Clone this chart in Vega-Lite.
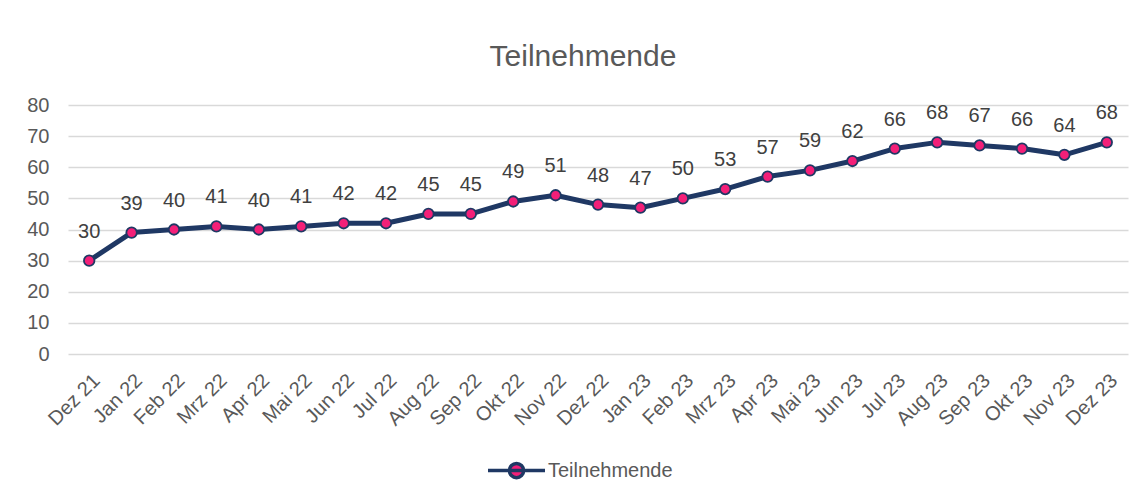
{
  "$schema": "https://vega.github.io/schema/vega-lite/v6.json",
  "autosize": {"type": "none"},
  "width": 1060,
  "height": 249,
  "padding": {"left": 68, "top": 105, "right": 15, "bottom": 140},
  "background": "white",
  "config": {
    "font": "Liberation Sans",
    "view": {"stroke": null},
    "axis": {"labelFont": "Liberation Sans", "labelColor": "#595959", "labelFontSize": 20, "ticks": false, "domain": false, "title": null},
    "legend": {"labelFont": "Liberation Sans"}
  },
  "title": {
    "text": "Teilnehmende",
    "fontSize": 30,
    "fontWeight": "normal",
    "color": "#595959",
    "anchor": "middle",
    "dx": -15,
    "offset": 23,
    "font": "Liberation Sans"
  },
  "data": {
    "values": [
      {"monat": "Dez 21", "wert": 30, "serie": "Teilnehmende"},
      {"monat": "Jan 22", "wert": 39, "serie": "Teilnehmende"},
      {"monat": "Feb 22", "wert": 40, "serie": "Teilnehmende"},
      {"monat": "Mrz 22", "wert": 41, "serie": "Teilnehmende"},
      {"monat": "Apr 22", "wert": 40, "serie": "Teilnehmende"},
      {"monat": "Mai 22", "wert": 41, "serie": "Teilnehmende"},
      {"monat": "Jun 22", "wert": 42, "serie": "Teilnehmende"},
      {"monat": "Jul 22", "wert": 42, "serie": "Teilnehmende"},
      {"monat": "Aug 22", "wert": 45, "serie": "Teilnehmende"},
      {"monat": "Sep 22", "wert": 45, "serie": "Teilnehmende"},
      {"monat": "Okt 22", "wert": 49, "serie": "Teilnehmende"},
      {"monat": "Nov 22", "wert": 51, "serie": "Teilnehmende"},
      {"monat": "Dez 22", "wert": 48, "serie": "Teilnehmende"},
      {"monat": "Jan 23", "wert": 47, "serie": "Teilnehmende"},
      {"monat": "Feb 23", "wert": 50, "serie": "Teilnehmende"},
      {"monat": "Mrz 23", "wert": 53, "serie": "Teilnehmende"},
      {"monat": "Apr 23", "wert": 57, "serie": "Teilnehmende"},
      {"monat": "Mai 23", "wert": 59, "serie": "Teilnehmende"},
      {"monat": "Jun 23", "wert": 62, "serie": "Teilnehmende"},
      {"monat": "Jul 23", "wert": 66, "serie": "Teilnehmende"},
      {"monat": "Aug 23", "wert": 68, "serie": "Teilnehmende"},
      {"monat": "Sep 23", "wert": 67, "serie": "Teilnehmende"},
      {"monat": "Okt 23", "wert": 66, "serie": "Teilnehmende"},
      {"monat": "Nov 23", "wert": 64, "serie": "Teilnehmende"},
      {"monat": "Dez 23", "wert": 68, "serie": "Teilnehmende"}
    ]
  },
  "encoding": {
    "x": {
      "field": "monat",
      "type": "ordinal",
      "sort": null,
      "scale": {"type": "point", "padding": 0.5},
      "axis": {"labelAngle": -45, "labelPadding": 16, "labelDx": -4, "grid": false}
    },
    "y": {
      "field": "wert",
      "type": "quantitative",
      "scale": {"domain": [0, 80], "nice": false},
      "axis": {"values": [0, 10, 20, 30, 40, 50, 60, 70, 80], "gridColor": "#D9D9D9", "gridWidth": 1.5, "labelPadding": 19}
    }
  },
  "layer": [
    {
      "mark": {"type": "line", "strokeWidth": 5, "strokeJoin": "round"},
      "encoding": {
        "color": {
          "field": "serie",
          "type": "nominal",
          "scale": {"range": ["#1F3864"]},
          "legend": {
            "title": null,
            "orient": "none",
            "legendX": 418,
            "legendY": 335,
            "padding": 0,
            "symbolType": "M-1,0H1M0.25,0A0.25,0.25 0 1,1 -0.25,0A0.25,0.25 0 1,1 0.25,0",
            "symbolSize": 3249,
            "labelFontSize": 20,
            "labelColor": "#595959",
            "labelOffset": 1,
            "encode": {
              "symbols": {
                "update": {
                  "fill": {"value": "#F31F78"},
                  "stroke": {"value": "#1F3864"},
                  "strokeWidth": {"value": 3.5},
                  "opacity": {"value": 1},
                  "fillOpacity": {"value": 1}
                }
              }
            }
          }
        }
      }
    },
    {
      "mark": {"type": "point", "filled": true, "size": 110, "fill": "#F31F78", "stroke": "#1F3864", "strokeWidth": 1.8, "opacity": 1}
    },
    {
      "mark": {"type": "text", "dy": -29, "fontSize": 20, "color": "#404040", "baseline": "middle"},
      "encoding": {"text": {"field": "wert", "type": "quantitative"}}
    }
  ]
}
